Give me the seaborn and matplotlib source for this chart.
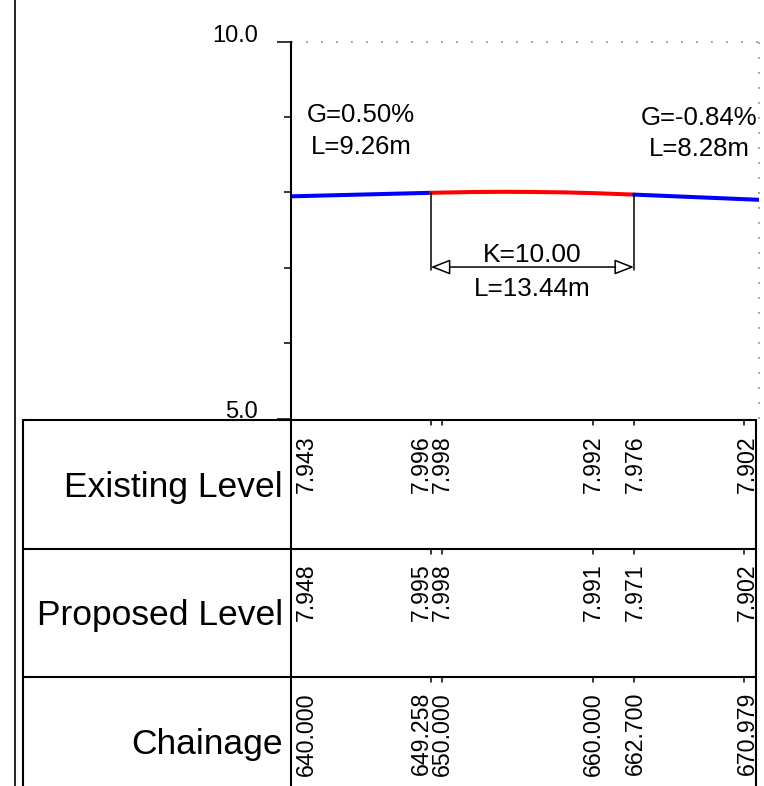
import numpy as np
import pandas as pd
import matplotlib
matplotlib.use("Agg")
import matplotlib.pyplot as plt
import seaborn as sns
from matplotlib.patches import FancyArrowPatch
from matplotlib.lines import Line2D
import matplotlib.transforms as mtransforms

# ---------------- data ----------------
chainage = [640.000, 649.258, 650.000, 660.000, 662.700, 670.979]
existing_level = [7.943, 7.996, 7.998, 7.992, 7.976, 7.902]
proposed_level = [7.948, 7.995, 7.998, 7.991, 7.971, 7.902]
chainage_labels = ["640.000", "649.258", "650.000", "660.000", "662.700", "670.979"]
existing_labels = ["7.943", "7.996", "7.998", "7.992", "7.976", "7.902"]
proposed_labels = ["7.948", "7.995", "7.998", "7.991", "7.971", "7.902"]
row_names = ["Existing Level", "Proposed Level", "Chainage"]

# profile (tangent in, vertical curve, tangent out)
grade_in_chainage = [640.000, 649.258]
grade_in_level = [7.948, 7.995]
curve_chainage = [649.258, 650.000, 652.000, 654.000, 656.000, 658.000, 660.000, 662.700]
curve_level = [7.995, 7.998, 8.005, 8.008, 8.006, 8.001, 7.991, 7.971]
grade_out_chainage = [662.700, 670.979]
grade_out_level = [7.971, 7.902]

grade_text = ["G=0.50%", "G=-0.84%"]
grade_length = ["L=9.26m", "L=8.28m"]
curve_k = "K=10.00"
curve_length = "L=13.44m"

# ---------------- style ----------------
sns.set_theme(style="white")
plt.rcParams["font.family"] = ["Liberation Sans", "DejaVu Sans"]
plt.rcParams["lines.scale_dashes"] = False

W, H, DPI = 764, 786, 100
fig = plt.figure(figsize=(W / DPI, H / DPI), dpi=DPI)
fig.patch.set_facecolor("white")

def fx(x):
    return x / W

def fy(y):
    return 1 - y / H

ax = fig.add_axes([fx(291), fy(418.5), fx(759) - fx(291), fy(41.7) - fy(418.5)])
ax.set_facecolor("white")

df = pd.concat([
    pd.DataFrame({"segment": "Grade in", "chainage": grade_in_chainage, "level": grade_in_level}),
    pd.DataFrame({"segment": "Curve", "chainage": curve_chainage, "level": curve_level}),
    pd.DataFrame({"segment": "Grade out", "chainage": grade_out_chainage, "level": grade_out_level}),
], ignore_index=True)

palette = {"Grade in": "#0000ff", "Curve": "#ff0000", "Grade out": "#0000ff"}
sns.lineplot(data=df, x="chainage", y="level", hue="segment", palette=palette,
             lw=2.9, legend=False, ax=ax, sort=False, estimator=None)

ax.set_xlim(chainage[0], chainage[-1])
ax.set_ylim(5, 10)
ax.set_xlabel("")
ax.set_ylabel("")
ax.set_xticks([])
ax.set_yticks([5, 10], labels=["5.0", "10.0"], va="baseline")
ax.set_yticks([6, 7, 8, 9], minor=True)
ax.tick_params(axis="y", which="major", left=True, length=10, width=1.1, pad=14,
               labelsize=17, color="black", labelcolor="black")
ax.tick_params(axis="y", which="minor", left=True, length=5, width=1.1, color="black")
for s in ["top", "right", "bottom"]:
    ax.spines[s].set_visible(False)
ax.spines["left"].set_color("black")
ax.spines["left"].set_linewidth(1.5)

# dotted frame top / right
ax.plot([chainage[0], chainage[-1]], [10, 10], color="#999999", lw=1.3,
        linestyle=(0, (1.3, 9.5)), clip_on=False)
ax.plot([chainage[-1], chainage[-1]], [10, 5], color="#999999", lw=1.3,
        linestyle=(0, (1.3, 9.5)), clip_on=False)

# grade annotations
grade_segments = [(grade_in_chainage, grade_in_level, 0), (grade_out_chainage, grade_out_level, 2)]
for (cs, ls, dx), g, l in zip(grade_segments, grade_text, grade_length):
    xm = (cs[0] + cs[-1]) / 2
    ym = (ls[0] + ls[-1]) / 2
    ax.annotate(g, xy=(xm, ym), xytext=(dx, 52), textcoords="offset points",
                ha="center", va="baseline", fontsize=18.5, color="black")
    ax.annotate(l, xy=(xm, ym), xytext=(dx, 29.5), textcoords="offset points",
                ha="center", va="baseline", fontsize=18.5, color="black")

# vertical curve dimension
dim_level = 7.01
for c, lv in ((curve_chainage[0], curve_level[0]), (curve_chainage[-1], curve_level[-1])):
    ax.plot([c, c], [lv, dim_level - 0.04], color="black", lw=1.1)
arr = FancyArrowPatch((curve_chainage[0], dim_level), (curve_chainage[-1], dim_level),
                      arrowstyle="<|-|>,head_length=12,head_width=4.7",
                      mutation_scale=1, fc="white", ec="black", lw=1.1,
                      shrinkA=0, shrinkB=0)
ax.add_patch(arr)
xmid = (curve_chainage[0] + curve_chainage[-1]) / 2
ax.annotate(curve_k, xy=(xmid, dim_level), xytext=(0, 3.6), textcoords="offset points",
            ha="center", va="baseline", fontsize=19, color="black")
ax.annotate(curve_length, xy=(xmid, dim_level), xytext=(0, -7.2), textcoords="offset points",
            ha="center", va="top", fontsize=18.8, color="black")

# ---------------- table ----------------
lw_t = 1.5
row_tops = [420, 548.5, 677]
row_h = 128.5
tx_right = 756
fig.add_artist(Line2D([fx(15), fx(15)], [fy(0), fy(H)], color="black", lw=1.2))
fig.add_artist(Line2D([fx(23), fx(23)], [fy(420), fy(H)], color="black", lw=lw_t))
fig.add_artist(Line2D([fx(291), fx(291)], [fy(420), fy(H)], color="black", lw=lw_t))
fig.add_artist(Line2D([fx(tx_right), fx(tx_right)], [fy(420), fy(H)], color="black", lw=lw_t))
for yt in row_tops:
    fig.add_artist(Line2D([fx(23), fx(tx_right)], [fy(yt), fy(yt)], color="black", lw=lw_t))

trans = mtransforms.blended_transform_factory(ax.transData, fig.transFigure)
label_dx = [15, -9.5, 0.5, 0, 1.5, -12]   # pixel nudges for readability
tick_dx = [0, 0, 0, 0, 0, -15]
row_labels = [existing_labels, proposed_labels, chainage_labels]
for r, (yt, name, labs) in enumerate(zip(row_tops, row_names, row_labels)):
    fig.text(fx(283), fy(yt + row_h / 2 + 3), name, ha="right", va="center",
             fontsize=25.5, color="black")
    for i, lab in enumerate(labs):
        off_t = trans + mtransforms.ScaledTranslation(tick_dx[i] / DPI, 0, fig.dpi_scale_trans)
        if i > 0:
            fig.add_artist(Line2D([chainage[i], chainage[i]], [fy(yt), fy(yt + 5)],
                                  transform=off_t, color="black", lw=1.1))
        off_l = trans + mtransforms.ScaledTranslation(label_dx[i] / DPI, 0, fig.dpi_scale_trans)
        fig.text(chainage[i], fy(yt + 15), lab, transform=off_l, rotation=90,
                 ha="center", va="top", fontsize=16.7, color="black")

fig.savefig("out.png", dpi=DPI, facecolor="white")
